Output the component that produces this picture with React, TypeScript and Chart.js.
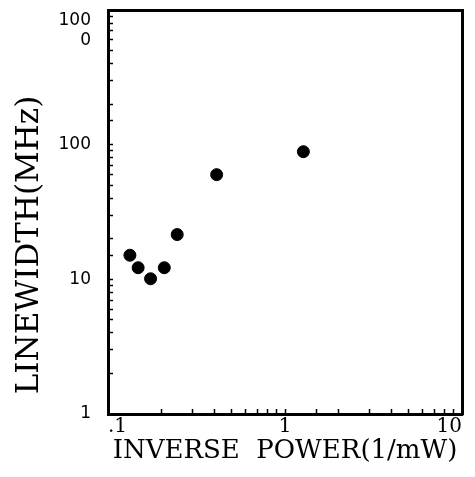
import React, { useEffect, useRef } from 'react';
import { Chart, registerables } from 'chart.js';

Chart.register(...registerables);

// Data (log-log plot)
const inversePower = [0.133, 0.148, 0.174, 0.208, 0.246, 0.411, 1.27];
const linewidthMHz = [15.1, 12.2, 10.1, 12.2, 21.5, 59.9, 88.7];

const xMajorTicks = [0.1, 1, 10];
const xTickText = ['.1', '1', '10'];
const yMajorTicks = [1, 10, 100, 1000];
const yTickText: (string | string[])[] = ['1', '10', '100', ['', '', '100', '0']];

const xTitle = 'INVERSE  POWER(1/mW)';
const yTitle = '  LINEWIDTH(MHz)';

function matchTick(list: number[], value: number): number {
  return list.findIndex((v) => Math.abs(v - value) / v < 1e-6);
}

function noPad(s: any) {
  s.paddingTop = 0;
  s.paddingBottom = 0;
  s.paddingLeft = 0;
  s.paddingRight = 0;
}

export default function App() {
  const canvasRef = useRef<HTMLCanvasElement | null>(null);

  useEffect(() => {
    if (!canvasRef.current) return;
    const points = inversePower.map((x, i) => ({ x, y: linewidthMHz[i] }));
    const chart = new Chart(canvasRef.current, {
      type: 'scatter',
      data: {
        datasets: [
          {
            data: points,
            backgroundColor: '#000',
            borderColor: '#000',
            pointRadius: 6,
            pointHoverRadius: 6,
            pointStyle: 'circle',
          },
        ],
      },
      options: {
        animation: false,
        responsive: false,
        maintainAspectRatio: false,
        layout: { padding: { left: 0, top: 10, right: 13, bottom: 0 } },
        plugins: { legend: { display: false }, tooltip: { enabled: false } },
        scales: {
          x: {
            type: 'logarithmic',
            position: 'bottom',
            min: 0.1,
            max: 10,
            afterFit: (s: any) => { s.height = 63; noPad(s); },
            border: { display: true, color: '#000', width: 3 },
            grid: {
              drawOnChartArea: false,
              drawTicks: true,
              tickLength: -5,
              tickColor: '#000',
              tickWidth: 1.5,
            },
            ticks: {
              autoSkip: false,
              maxRotation: 0,
              minRotation: 0,
              align: 'inner',
              padding: 6,
              color: '#000',
              font: { family: 'DejaVu Serif', size: 20 },
              callback: (value: any) => {
                const i = matchTick(xMajorTicks, Number(value));
                return i >= 0 ? xTickText[i] : '';
              },
            },
            title: {
              display: true,
              text: xTitle,
              color: '#000',
              font: { family: 'DejaVu Serif', size: 26 },
              padding: { top: 0, bottom: 10 },
            },
          },
          x2: {
            type: 'logarithmic',
            position: 'top',
            min: 0.1,
            max: 10,
            afterFit: (s: any) => { s.height = 0; noPad(s); },
            border: { display: true, color: '#000', width: 3 },
            grid: { drawOnChartArea: false, drawTicks: false },
            ticks: { display: false },
          },
          y: {
            type: 'logarithmic',
            position: 'left',
            min: 1,
            max: 1000,
            afterFit: (s: any) => { s.width = 108; noPad(s); },
            border: { display: true, color: '#000', width: 3 },
            grid: {
              drawOnChartArea: false,
              drawTicks: true,
              tickLength: -5,
              tickColor: '#000',
              tickWidth: 1.5,
            },
            ticks: {
              autoSkip: false,
              padding: 22,
              color: '#000',
              font: { family: 'DejaVu Sans', size: 17 },
              callback: (value: any) => {
                const i = matchTick(yMajorTicks, Number(value));
                return i >= 0 ? yTickText[i] : '';
              },
            },
            title: {
              display: true,
              text: yTitle,
              align: 'start',
              color: '#000',
              font: { family: 'DejaVu Serif', size: 31 },
              padding: { top: 11, bottom: 0 },
            },
          },
          y2: {
            type: 'logarithmic',
            position: 'right',
            min: 1,
            max: 1000,
            afterFit: (s: any) => { s.width = 0; noPad(s); },
            border: { display: true, color: '#000', width: 3 },
            grid: { drawOnChartArea: false, drawTicks: false },
            ticks: { display: false },
          },
        },
      } as any,
    });
    return () => chart.destroy();
  }, []);

  return (
    <div style={{ position: 'absolute', left: 0, top: 0, width: 475, height: 477, background: '#fff' }}>
      <canvas ref={canvasRef} width={475} height={477} style={{ display: 'block', width: 475, height: 477 }} />
    </div>
  );
}
